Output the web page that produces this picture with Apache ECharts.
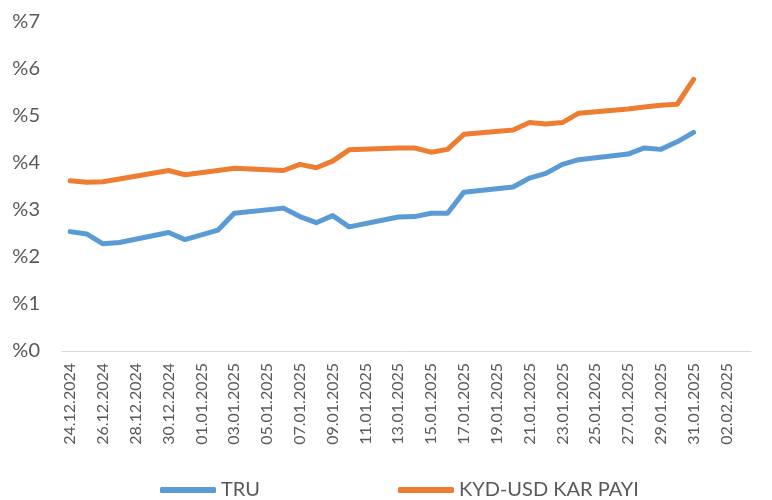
<!DOCTYPE html>
<html>
<head>
<meta charset="utf-8">
<script src="https://cdn.jsdelivr.net/npm/echarts@6/dist/echarts.min.js"></script>
<style>
  html, body { margin: 0; padding: 0; background: #fff; }
  #chart { width: 772px; height: 500px; }
</style>
</head>
<body>
<div id="chart"></div>
<script>
const dates = [
  "24.12.2024", "25.12.2024", "26.12.2024", "27.12.2024", "28.12.2024", "29.12.2024",
  "30.12.2024", "31.12.2024", "01.01.2025", "02.01.2025", "03.01.2025", "04.01.2025",
  "05.01.2025", "06.01.2025", "07.01.2025", "08.01.2025", "09.01.2025", "10.01.2025",
  "11.01.2025", "12.01.2025", "13.01.2025", "14.01.2025", "15.01.2025", "16.01.2025",
  "17.01.2025", "18.01.2025", "19.01.2025", "20.01.2025", "21.01.2025", "22.01.2025",
  "23.01.2025", "24.01.2025", "25.01.2025", "26.01.2025", "27.01.2025", "28.01.2025",
  "29.01.2025", "30.01.2025", "31.01.2025", "01.02.2025", "02.02.2025", "03.02.2025"
];

// null = no quote that day (weekend / holiday)
const tru = [
  2.54, 2.49, 2.28, 2.31, null, null,
  2.52, 2.37, null, 2.57, 2.93, null,
  null, 3.04, 2.86, 2.73, 2.88, 2.64,
  null, null, 2.85, 2.86, 2.93, 2.93,
  3.38, null, null, 3.49, 3.68, 3.78,
  3.97, 4.07, null, null, 4.19, 4.32,
  4.29, 4.45, 4.65, null, null, null
];

const kydUsd = [
  3.62, 3.59, 3.60, 3.66, null, null,
  3.84, 3.75, null, 3.84, 3.89, null,
  null, 3.84, 3.97, 3.90, 4.04, 4.28,
  null, null, 4.32, 4.32, 4.23, 4.29,
  4.61, null, null, 4.70, 4.86, 4.83,
  4.86, 5.06, null, null, 5.15, 5.19,
  5.23, 5.25, 5.78, null, null, null
];

const textColor = "#595959";
const fontFamily = "Lato, 'Open Sans', sans-serif";

const lineDefault = {
  type: "line",
  symbol: "none",
  connectNulls: true,
  lineStyle: { width: 5, cap: "round", join: "round" }
};

const chart = echarts.init(document.getElementById("chart"));

chart.setOption({
  animation: false,
  color: ["#5B9BD5", "#ED7D31"],
  grid: { left: 62, right: 21, top: 22, bottom: 149 },
  legend: {
    left: 160,
    top: 480,
    padding: 0,
    icon: "roundRect",
    itemWidth: 56,
    itemHeight: 6,
    itemGap: 138,
    textStyle: { color: textColor, fontSize: 20, fontFamily: fontFamily },
    data: ["TRU", "KYD-USD KAR PAYI"]
  },
  xAxis: {
    type: "category",
    data: dates,
    boundaryGap: true,
    axisLine: { lineStyle: { color: "#D9D9D9", width: 1 } },
    axisTick: { interval: 1, length: 5, lineStyle: { color: "#D9D9D9" } },
    axisLabel: {
      interval: 1,
      rotate: 90,
      margin: 12,
      color: textColor,
      fontSize: 16,
      fontFamily: fontFamily
    }
  },
  yAxis: {
    type: "value",
    min: 0,
    max: 7,
    interval: 1,
    axisLine: { show: false },
    axisTick: { show: false },
    splitLine: { show: false },
    axisLabel: {
      margin: 22,
      color: textColor,
      fontSize: 20,
      fontFamily: fontFamily,
      formatter: (v) => "%" + v
    }
  },
  series: [
    { ...lineDefault, name: "TRU", data: tru },
    { ...lineDefault, name: "KYD-USD KAR PAYI", data: kydUsd }
  ]
});
</script>
</body>
</html>
